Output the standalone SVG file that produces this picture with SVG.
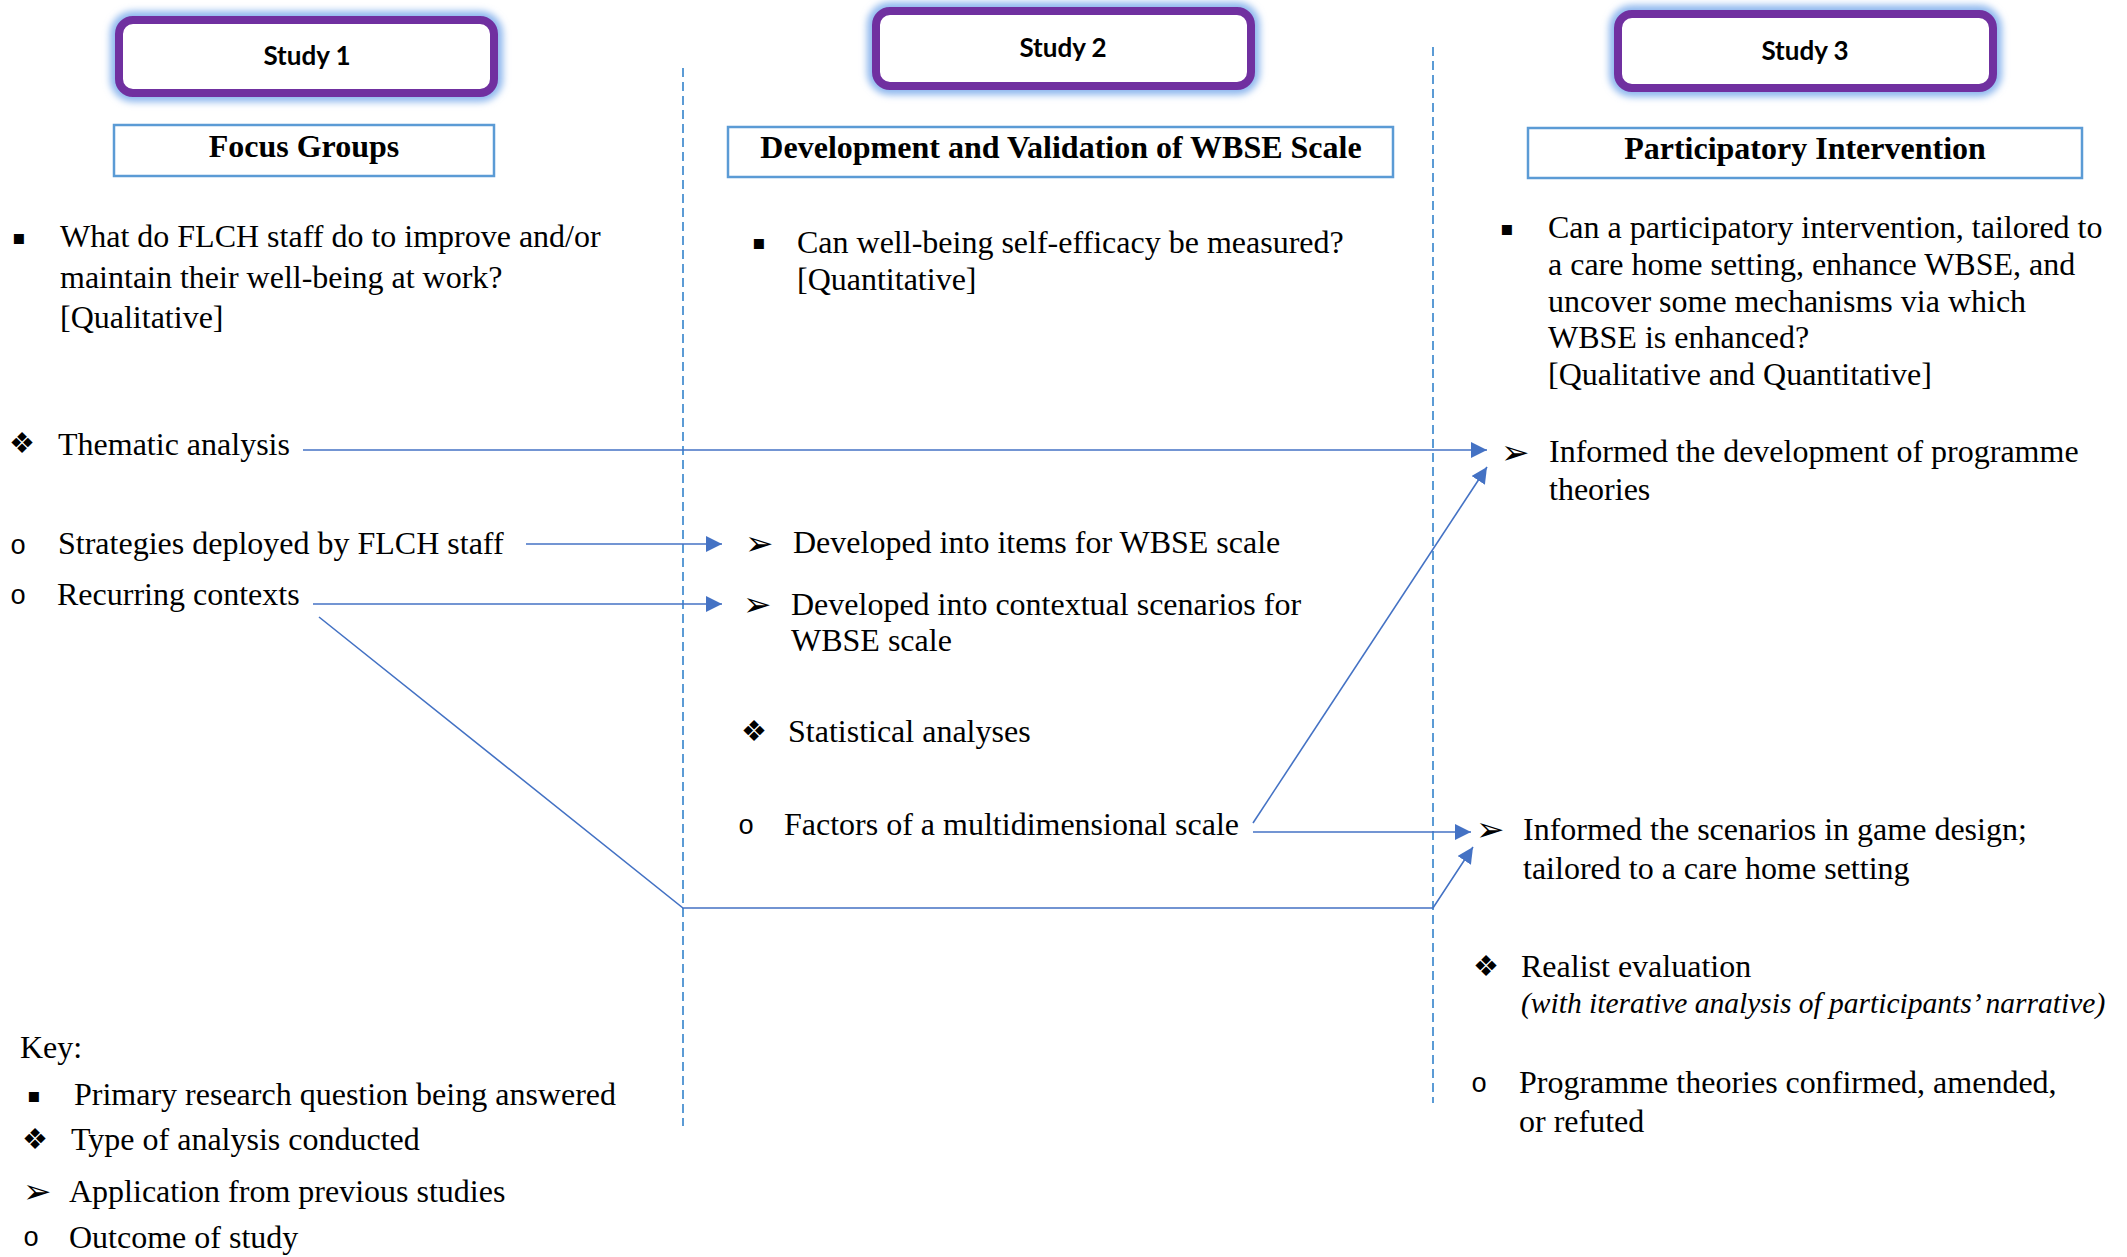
<svg xmlns="http://www.w3.org/2000/svg" width="2127" height="1257" viewBox="0 0 2127 1257">
  <defs>
    <filter id="glow" x="-10%" y="-40%" width="120%" height="180%">
      <feGaussianBlur stdDeviation="3.5"/>
    </filter>
    <marker id="arrow" viewBox="0 0 16 16" refX="16" refY="8" markerWidth="16" markerHeight="16" markerUnits="userSpaceOnUse" orient="auto">
      <path d="M0,0 L16,8 L0,16 Z" fill="#4472c4"/>
    </marker>
    <style>
      .txt { font-family: "Liberation Serif", "Times New Roman", serif; font-size: 32px; fill: #000; }
      .ital { font-family: "Liberation Serif", "Times New Roman", serif; font-size: 29.5px; font-style: italic; fill: #000; }
      .head { font-family: "Liberation Serif", "Times New Roman", serif; font-size: 32px; font-weight: bold; fill: #000; text-anchor: middle; }
      .study { font-family: Lato, "Open Sans", sans-serif; font-size: 26px; font-weight: bold; fill: #000; text-anchor: middle; }
      .halo { fill: none; stroke: #8fb8ee; stroke-width: 18; filter: url(#glow); }
      .pill { fill: #fff; stroke: #7030a0; stroke-width: 8; }
      .frame { fill: #fff; stroke: #5b9bd5; stroke-width: 2.5; }
      .sym { font-family: "DejaVu Sans", sans-serif; fill: #000; }
      .sq { font-size: 20px; }
      .dia { font-size: 29px; }
      .arw { font-size: 34px; }
      .circ { font-family: "Liberation Mono", "Courier New", monospace; font-size: 27px; fill: #000; }
      .divider { stroke: #5b9bd5; stroke-width: 2; stroke-dasharray: 9 5; fill: none; }
      .link { fill: none; stroke: #4472c4; stroke-width: 1.6; }
    </style>
  </defs>
  <rect width="2127" height="1257" fill="#fff"/>

  <!-- column dividers -->
  <g id="dividers">
    <line class="divider" x1="683" y1="68" x2="683" y2="1126"/>
    <line class="divider" x1="1433" y1="47" x2="1433" y2="1103"/>
  </g>

  <!-- study title pills -->
  <g id="study1">
    <rect class="halo" x="119" y="20" width="375" height="73" rx="14"/>
    <rect class="pill" x="119" y="20" width="375" height="73" rx="14"/>
    <text class="study" x="307" y="65">Study 1</text>
  </g>
  <g id="study2">
    <rect class="halo" x="876" y="11" width="375" height="75" rx="14"/>
    <rect class="pill" x="876" y="11" width="375" height="75" rx="14"/>
    <text class="study" x="1063" y="57">Study 2</text>
  </g>
  <g id="study3">
    <rect class="halo" x="1618" y="14" width="375" height="74" rx="14"/>
    <rect class="pill" x="1618" y="14" width="375" height="74" rx="14"/>
    <text class="study" x="1805" y="60">Study 3</text>
  </g>

  <!-- study method headings -->
  <g id="focus-groups">
    <rect class="frame" x="114" y="125" width="380" height="51"/>
    <text class="head" x="304" y="157">Focus Groups</text>
  </g>
  <g id="wbse-scale">
    <rect class="frame" x="728" y="127" width="665" height="50"/>
    <text class="head" x="1061" y="158">Development and Validation of WBSE Scale</text>
  </g>
  <g id="participatory-intervention">
    <rect class="frame" x="1528" y="128" width="554" height="50"/>
    <text class="head" x="1805" y="159">Participatory Intervention</text>
  </g>

  <!-- Study 1 column -->
  <g id="s1-question">
    <text class="sym sq" x="12" y="244">▪</text>
    <text class="txt" x="60" y="247">What do FLCH staff do to improve and/or</text>
    <text class="txt" x="60" y="288">maintain their well-being at work?</text>
    <text class="txt" x="60" y="328">[Qualitative]</text>
  </g>
  <g id="s1-analysis">
    <text class="sym dia" x="9" y="453">❖</text>
    <text class="txt" x="58" y="455">Thematic analysis</text>
  </g>
  <g id="s1-strategies">
    <text class="circ" x="10" y="554">o</text>
    <text class="txt" x="58" y="554">Strategies deployed by FLCH staff</text>
  </g>
  <g id="s1-contexts">
    <text class="circ" x="10" y="604">o</text>
    <text class="txt" x="57" y="605">Recurring contexts</text>
  </g>

  <!-- Study 2 column -->
  <g id="s2-question">
    <text class="sym sq" x="752" y="249">▪</text>
    <text class="txt" x="797" y="253">Can well-being self-efficacy be measured?</text>
    <text class="txt" x="797" y="290">[Quantitative]</text>
  </g>
  <g id="s2-items">
    <text class="sym arw" x="745" y="555">➢</text>
    <text class="txt" x="793" y="553">Developed into items for WBSE scale</text>
  </g>
  <g id="s2-scenarios">
    <text class="sym arw" x="743" y="616">➢</text>
    <text class="txt" x="791" y="615">Developed into contextual scenarios for</text>
    <text class="txt" x="791" y="651">WBSE scale</text>
  </g>
  <g id="s2-analysis">
    <text class="sym dia" x="741" y="741">❖</text>
    <text class="txt" x="788" y="742">Statistical analyses</text>
  </g>
  <g id="s2-factors">
    <text class="circ" x="738" y="834">o</text>
    <text class="txt" x="784" y="835">Factors of a multidimensional scale</text>
  </g>

  <!-- Study 3 column -->
  <g id="s3-question">
    <text class="sym sq" x="1500" y="235">▪</text>
    <text class="txt" x="1548" y="238">Can a participatory intervention, tailored to</text>
    <text class="txt" x="1548" y="275">a care home setting, enhance WBSE, and</text>
    <text class="txt" x="1548" y="312">uncover some mechanisms via which</text>
    <text class="txt" x="1548" y="348">WBSE is enhanced?</text>
    <text class="txt" x="1548" y="385">[Qualitative and Quantitative]</text>
  </g>
  <g id="s3-programme-theories">
    <text class="sym arw" x="1501" y="464">➢</text>
    <text class="txt" x="1549" y="462">Informed the development of programme</text>
    <text class="txt" x="1549" y="500">theories</text>
  </g>
  <g id="s3-game-design">
    <text class="sym arw" x="1476" y="841">➢</text>
    <text class="txt" x="1523" y="840">Informed the scenarios in game design;</text>
    <text class="txt" x="1523" y="879">tailored to a care home setting</text>
  </g>
  <g id="s3-analysis">
    <text class="sym dia" x="1473" y="976">❖</text>
    <text class="txt" x="1521" y="977">Realist evaluation</text>
    <text class="ital" x="1521" y="1013">(with iterative analysis of participants’ narrative)</text>
  </g>
  <g id="s3-outcome">
    <text class="circ" x="1471" y="1092">o</text>
    <text class="txt" x="1519" y="1093">Programme theories confirmed, amended,</text>
    <text class="txt" x="1519" y="1132">or refuted</text>
  </g>

  <!-- key -->
  <g id="key">
    <text class="txt" x="20" y="1058">Key:</text>
    <text class="sym sq" x="27" y="1102">▪</text>
    <text class="txt" x="74" y="1105">Primary research question being answered</text>
    <text class="sym dia" x="22" y="1149">❖</text>
    <text class="txt" x="71" y="1150">Type of analysis conducted</text>
    <text class="sym arw" x="23" y="1203">➢</text>
    <text class="txt" x="69" y="1202">Application from previous studies</text>
    <text class="circ" x="23" y="1246">o</text>
    <text class="txt" x="69" y="1248">Outcome of study</text>
  </g>

  <!-- connectors -->
  <g id="connectors">
    <path class="link" d="M303,450 H1487" marker-end="url(#arrow)"/>
    <path class="link" d="M526,544 H722" marker-end="url(#arrow)"/>
    <path class="link" d="M313,604 H722" marker-end="url(#arrow)"/>
    <path class="link" d="M319,617 L683,908 H1433 L1473,847" marker-end="url(#arrow)"/>
    <path class="link" d="M1253,832 H1471" marker-end="url(#arrow)"/>
    <path class="link" d="M1253,823 L1487,467" marker-end="url(#arrow)"/>
  </g>
</svg>
